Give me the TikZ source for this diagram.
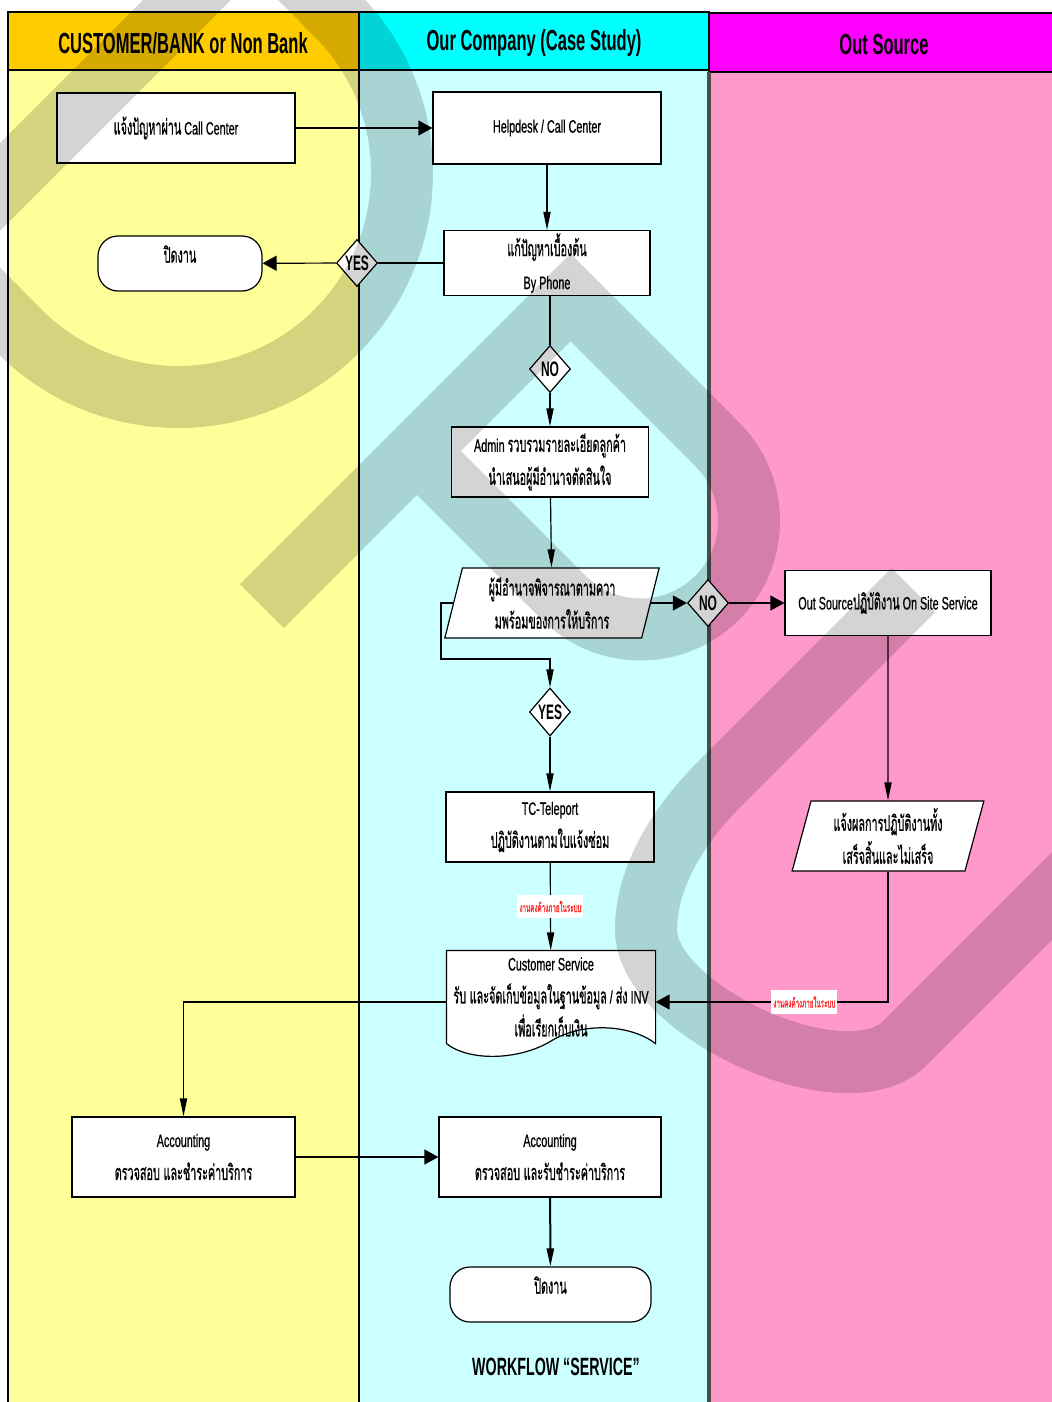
\documentclass[tikz,border=0pt]{standalone}
\usepackage{fontspec}
\setmainfont{Liberation Sans}[FakeStretch=0.6,FakeBold=0.6]
\newfontfamily\hdfont{Liberation Sans}[FakeStretch=0.57]
\newfontfamily\thaifont{Loma}[Script=Thai,FakeStretch=0.5,Scale=1.2,FakeBold=0.6]
\usepackage{tikz}
\usetikzlibrary{positioning,shapes.geometric,arrows.meta}
\definecolor{gold}{HTML}{FFCC00}
\definecolor{paleyellow}{HTML}{FFFF99}
\definecolor{aqua}{HTML}{00FFFF}
\definecolor{paleaqua}{HTML}{CCFFFF}
\definecolor{fuchsia}{HTML}{FF00FF}
\definecolor{rosepink}{HTML}{FF99CC}
\newcommand{\tha}[1]{{\thaifont #1}}
\pgfdeclarelayer{lanes}
\pgfdeclarelayer{docs}
\pgfdeclarelayer{mark}
\pgfsetlayers{lanes,docs,main,mark}

\begin{document}
\begin{tikzpicture}[x=0.5pt,y=-0.5pt,
    box/.style={draw, fill=white, line width=0.6pt, align=center, inner sep=1pt,
      font=\fontsize{9}{16.5}\selectfont},
    term/.style={box, rounded corners=10pt},
    para/.style={box, trapezium, trapezium left angle=77, trapezium right angle=103,
      trapezium stretches=true},
    decide/.style={diamond, draw, fill=white, line width=0.6pt, inner sep=0pt,
      minimum width=20.5pt, minimum height=23.5pt,
      font={\hdfont\bfseries\fontsize{10.5}{11}\selectfont}},
    hdr/.style={font={\hdfont\bfseries\fontsize{14.5}{16}\selectfont}},
    arr/.style={-{Triangle[length=7pt,width=7.5pt]}, line width=0.6pt},
    tarr/.style={-{Triangle[length=9pt,width=3.6pt]}, line width=0.6pt},
    lbl/.style={fill=white, text=red!85, inner xsep=1pt, inner ysep=3pt,
      font=\fontsize{5.2}{6}\selectfont},
    wmark/.style={draw=black, draw opacity=0.17, line width=31pt, line join=miter}]
  \useasboundingbox (0,0) rectangle (1052,1402);

  % swim lanes
  \begin{pgfonlayer}{lanes}
    \filldraw[fill=paleyellow, line width=0.6pt] (8,70) rectangle (359,1410);
    \filldraw[fill=paleaqua, line width=0.6pt] (359,70) rectangle (709,1410);
    \filldraw[fill=rosepink, line width=0.6pt] (709,72) rectangle (1060,1410);
    \filldraw[fill=gold, line width=0.6pt] (8,12) rectangle (359,70);
    \filldraw[fill=aqua, line width=0.6pt] (359,12) rectangle (709,70);
    \filldraw[fill=fuchsia, line width=0.6pt] (709,13) rectangle (1060,72);
    \draw[black!70, line width=2pt] (709,72) -- (709,1410);
  \end{pgfonlayer}
  \node[hdr] (hcust) at (183,43) {CUSTOMER/BANK or Non Bank};
  \node[hdr] (hcomp) at (534,43) {Our Company (Case Study)};
  \node[hdr] (hout) at (884,45) {Out Source};

  % steps
  \node[box, minimum width=119pt, minimum height=35pt] (callin) at (176,128)
    {\tha{แจ้งปัญหาผ่าน} Call Center};
  \node[box, minimum width=114pt, minimum height=36pt] (helpdesk) at (547,128)
    {Helpdesk / Call Center};
  \node[box, minimum width=103pt, minimum height=32.5pt] (byphone) at (547,263)
    {\tha{แก้ปัญหาเบื้องต้น}\\By Phone};
  \node[term, minimum width=82pt, minimum height=27.5pt] (close1) at (180,263.5)
    {\raisebox{9.5pt}{\tha{ปิดงาน}}};
  \node[decide] (yes1) at (357,263) {YES};
  \node[decide] (no1) at (550,369) {NO};
  \node[box, minimum width=98.5pt, minimum height=35pt] (admin) at (550,462)
    {Admin \tha{รวบรวมรายละเอียดลูกค้า}\\\tha{นำเสนอผู้มีอำนาจตัดสินใจ}};
  \node[para, minimum width=108pt, minimum height=35pt] (choose) at (552,603)
    {\tha{ผู้มีอำนาจพิจารณาตามควา}\\\tha{มพร้อมของการให้บริการ}};
  \node[decide] (no2) at (708,603) {NO};
  \node[box, minimum width=103pt, minimum height=32.5pt] (outsrc) at (888,603)
    {Out Source\tha{ปฏิบัติงาน} On Site Service};
  \node[para, minimum width=96pt, minimum height=35pt] (report) at (888,836)
    {\tha{แจ้งผลการปฏิบัติงานทั้ง}\\\tha{เสร็จสิ้นและไม่เสร็จ}};
  \node[decide, minimum height=24pt] (yes2) at (550,712) {YES};
  \node[box, minimum width=104pt, minimum height=35pt] (tc) at (550,827)
    {TC-Teleport\\\tha{ปฏิบัติงานตามใบแจ้งซ่อม}};
  \node[box, draw=none, fill=none, minimum width=104pt, minimum height=46pt] (cs) at (551,997)
    {Customer Service\\\tha{รับ และจัดเก็บข้อมูลในฐานข้อมูล} / \tha{ส่ง} INV\\\tha{เพื่อเรียกเก็บเงิน}};
  \node[box, minimum width=111.5pt, minimum height=40pt] (acc1) at (183.5,1157)
    {Accounting\\\tha{ตรวจสอบ และชำระค่าบริการ}};
  \node[box, minimum width=111pt, minimum height=40pt] (acc2) at (550,1157)
    {Accounting\\\tha{ตรวจสอบ และรับชำระค่าบริการ}};
  \node[term, minimum width=100.5pt, minimum height=27.5pt] (close2) at (550.5,1294.5)
    {\raisebox{9.5pt}{\tha{ปิดงาน}}};
  \node[font={\hdfont\bfseries\fontsize{12.5}{14}\selectfont}] (title) at (556,1367)
    {WORKFLOW “SERVICE”};

  % document outline
  \begin{pgfonlayer}{docs}
    \draw[fill=white, line width=0.6pt] (cs.south west) -- (cs.north west) -- (cs.north east)
      -- (cs.south east) .. controls (630,1024) and (582,1022) .. (551,1041)
      .. controls (520,1060) and (470,1062) .. (cs.south west) -- cycle;
  \end{pgfonlayer}

  % flow
  \coordinate (loop) at (441,659);
  \draw[arr] (callin) -- (helpdesk);
  \draw[tarr] (helpdesk) -- (byphone);
  \draw[line width=0.6pt] (byphone.west) -- (yes1.east);
  \draw[arr] (yes1) -- (close1);
  \draw[line width=1pt] (byphone.south -| no1.north) -- (no1.north);
  \draw[tarr] (no1) -- (admin);
  \draw[tarr] (admin) -- (choose);
  \draw[arr] (choose) -- (no2);
  \draw[arr] (no2) -- (outsrc);
  \draw[tarr] (choose.west) -| (loop) -| (yes2.north);
  \draw[tarr] (yes2) -- (tc);
  \draw[tarr] (tc) -- (cs) node[lbl, midway] (wait1) {\tha{งานคงค้างภายในระบบ}};
  \draw[tarr] (outsrc) -- (report);
  \draw[arr] (report.south) |- ([yshift=-2.5pt]cs.east)
    node[lbl, pos=0.68] (wait2) {\tha{งานคงค้างภายในระบบ}};
  \draw[tarr] ([yshift=-2.5pt]cs.west) -| (acc1.north);
  \draw[arr] (acc1) -- (acc2);
  \draw[tarr, line width=1pt] (acc2) -- (close2);

  % watermark
  \begin{pgfonlayer}{mark}
    \begin{scope}
      \clip (0,0) rectangle (1052,1402);
      \draw[wmark] (-200,387) -- (254.5,-67.5) -- (336.4,14.6)
        .. controls (423.9,102.1) and (423.9,243.9) .. (336.4,331.4)
        .. controls (248.9,418.9) and (107.1,418.9) .. (19.6,331.4) -- (-62,249);
      \draw[wmark] (262,606) -- (570.5,297.5) -- (717.2,444.3)
        .. controls (759.6,486.7) and (759.6,555.3) .. (717.2,597.7)
        .. controls (674.8,640.1) and (606.2,640.1) .. (563.8,597.7) -- (417,451);
      \draw[wmark] (913.5,590) -- (720,783.5)
        .. controls (675,828.5) and (646,880) .. (646,930)
        .. controls (646,1010) and (845,1103) .. (905,1043) -- (1150,798);
    \end{scope}
  \end{pgfonlayer}
\end{tikzpicture}
\end{document}
